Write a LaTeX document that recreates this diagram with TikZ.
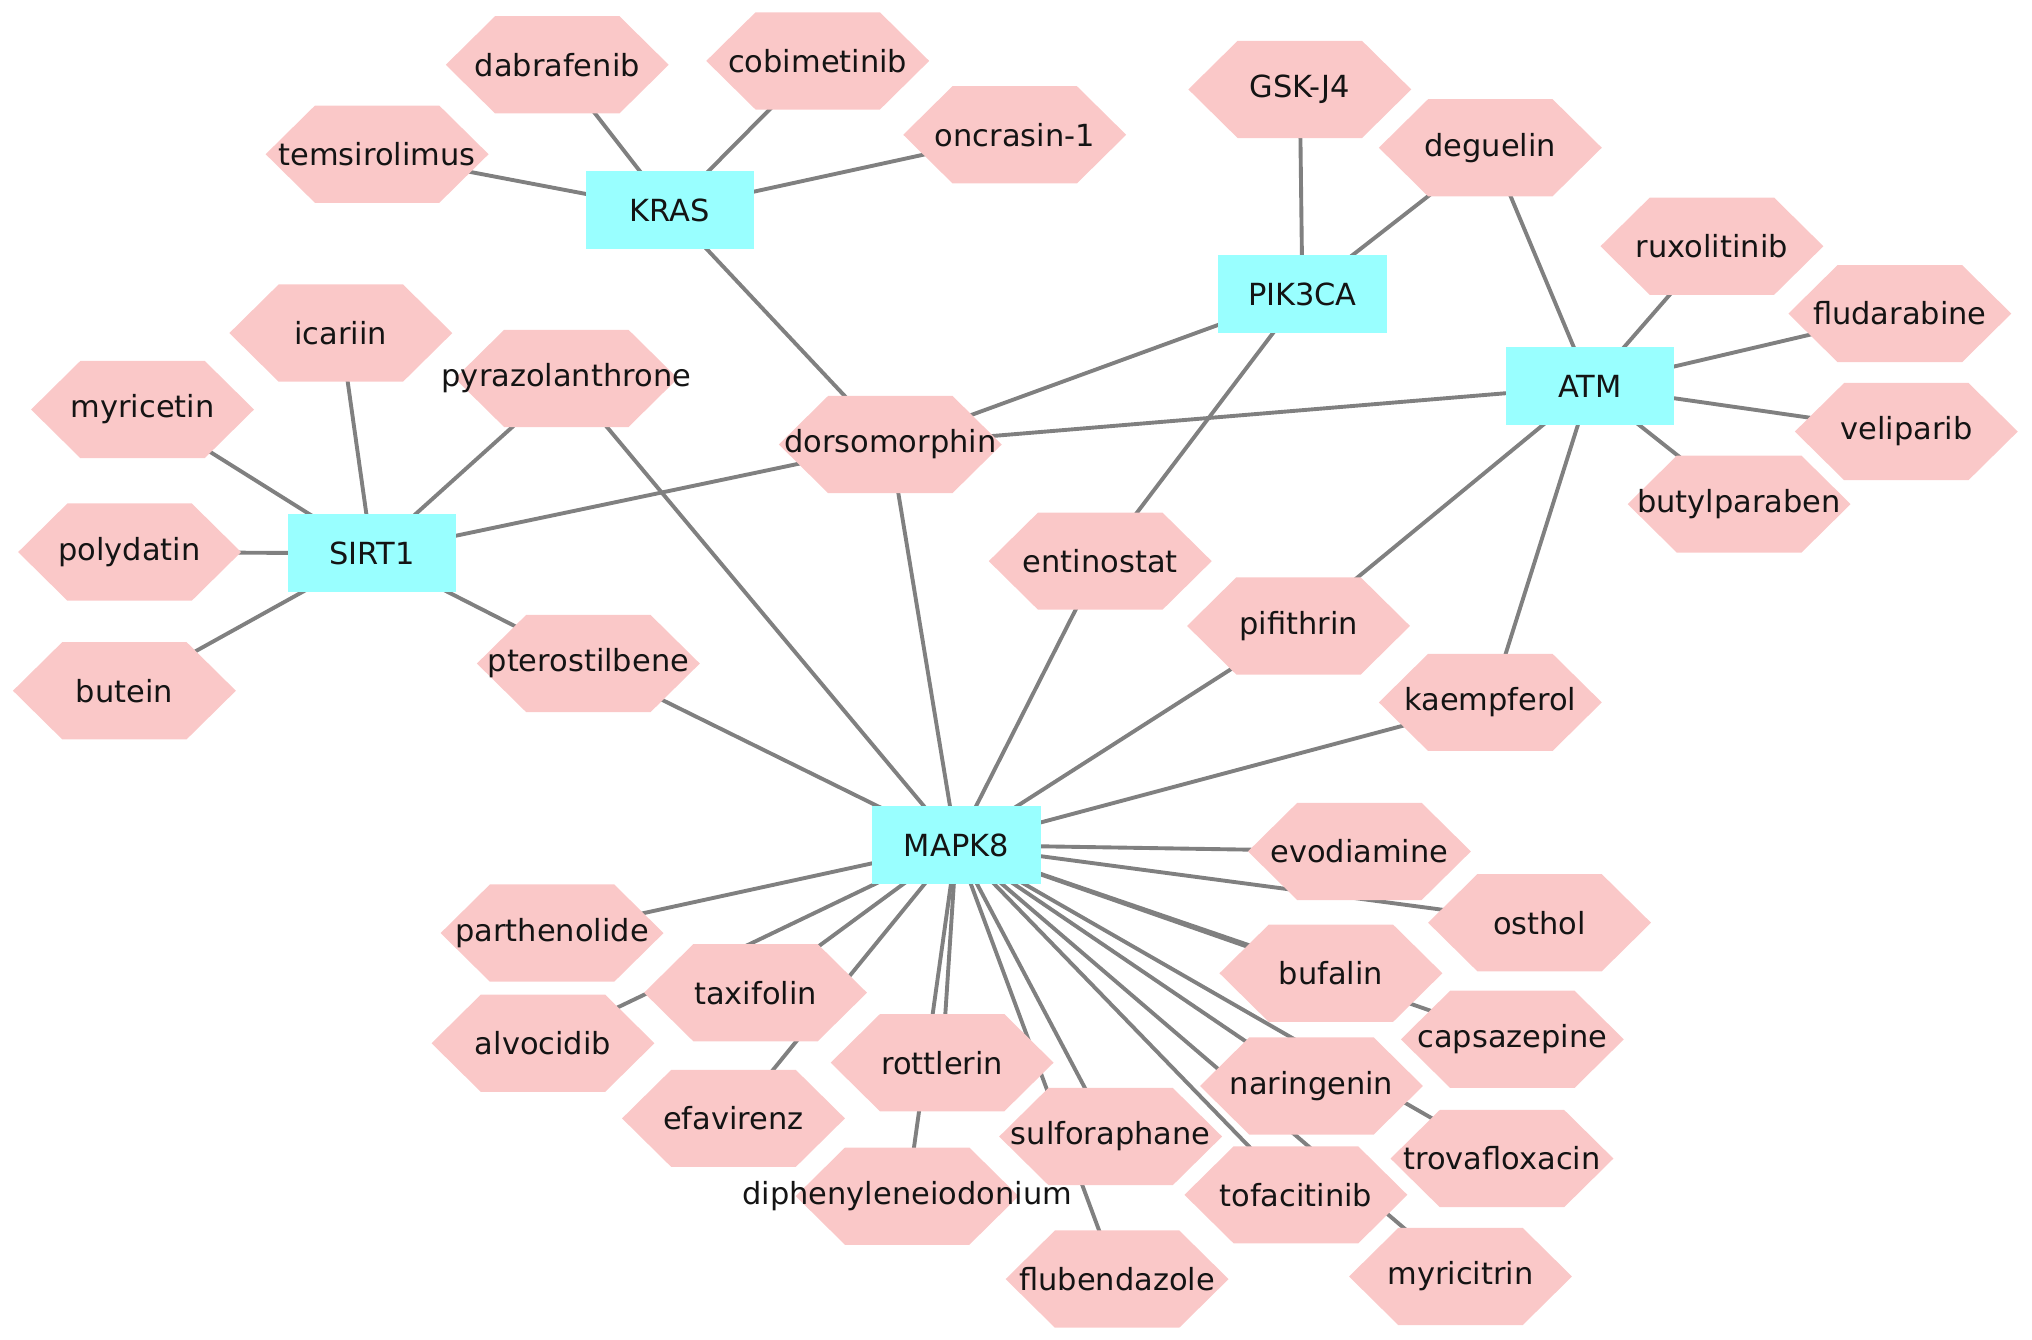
\documentclass[tikz,border=0pt]{standalone}
\usepackage{fontspec}
\setmainfont{DejaVu Sans}
\pgfdeclarelayer{edges}
\pgfdeclarelayer{fills}
\pgfsetlayers{edges,fills,main}
\definecolor{hexpink}{RGB}{250,200,200}
\definecolor{gencyan}{RGB}{153,255,255}
\definecolor{edgegray}{RGB}{128,128,128}
\definecolor{labelink}{RGB}{20,20,20}
\tikzset{
  lbl/.style={font=\fontsize{23.5}{28}\selectfont, text=labelink, inner sep=0pt},
  hexnode/.style={lbl, minimum width=172pt, minimum height=75pt},
  gene/.style={lbl, rectangle, fill=gencyan, minimum width=130pt, minimum height=60pt},
  hexfill/.style={fill=hexpink},
  edge/.style={draw=edgegray, line width=3pt},
}
\begin{document}
\begin{tikzpicture}[x=1pt,y=-1pt]
\useasboundingbox (0,0) rectangle (1568,1034);
% genes
\node[gene] (KRAS) at (517,162) {KRAS};
\node[gene] (PIK3CA) at (1005,227) {PIK3CA};
\node[gene] (ATM) at (1227,298) {ATM};
\node[gene] (SIRT1) at (287,427) {SIRT1};
\node[gene] (MAPK8) at (738,652) {MAPK8};
% drugs
\node[hexnode] (dabrafenib) at (430,50) {dabrafenib};
\node[hexnode] (cobimetinib) at (631,47) {cobimetinib};
\node[hexnode] (temsirolimus) at (291,119) {temsirolimus};
\node[hexnode] (oncrasin) at (783,104) {oncrasin-1};
\node[hexnode] (GSKJ4) at (1003,69) {GSK-J4};
\node[hexnode] (deguelin) at (1150,114) {deguelin};
\node[hexnode] (ruxolitinib) at (1321,190) {ruxolitinib};
\node[hexnode] (fludarabine) at (1466,242) {fludarabine};
\node[hexnode] (veliparib) at (1471,333) {veliparib};
\node[hexnode] (butylparaben) at (1342,389) {butylparaben};
\node[hexnode] (icariin) at (263,257) {icariin};
\node[hexnode] (myricetin) at (110,316) {myricetin};
\node[hexnode] (pyrazolanthrone) at (437,292) {pyrazolanthrone};
\node[hexnode] (dorsomorphin) at (687,343) {dorsomorphin};
\node[hexnode] (polydatin) at (100,426) {polydatin};
\node[hexnode] (butein) at (96,533) {butein};
\node[hexnode] (pterostilbene) at (454,512) {pterostilbene};
\node[hexnode] (entinostat) at (849,433) {entinostat};
\node[hexnode] (pifithrin) at (1002,483) {pifithrin};
\node[hexnode] (kaempferol) at (1150,542) {kaempferol};
\node[hexnode] (evodiamine) at (1049,657) {evodiamine};
\node[hexnode] (osthol) at (1188,712) {osthol};
\node[hexnode] (parthenolide) at (426,720) {parthenolide};
\node[hexnode] (taxifolin) at (583,766) {taxifolin};
\node[hexnode] (alvocidib) at (419,805) {alvocidib};
\node[hexnode] (bufalin) at (1027,751) {bufalin};
\node[hexnode] (capsazepine) at (1167,802) {capsazepine};
\node[hexnode] (rottlerin) at (727,820) {rottlerin};
\node[hexnode] (efavirenz) at (566,863) {efavirenz};
\node[hexnode] (naringenin) at (1012,838) {naringenin};
\node[hexnode] (sulforaphane) at (857,877) {sulforaphane};
\node[hexnode] (trovafloxacin) at (1159,894) {trovafloxacin};
\node[hexnode] (diphenyleneiodonium) at (700,923) {diphenyleneiodonium};
\node[hexnode] (tofacitinib) at (1000,922) {tofacitinib};
\node[hexnode] (flubendazole) at (862,987) {flubendazole};
\node[hexnode] (myricitrin) at (1127,985) {myricitrin};
% hexagon bodies
\begin{pgfonlayer}{fills}
\foreach \n in {dabrafenib,cobimetinib,temsirolimus,oncrasin,GSKJ4,deguelin,ruxolitinib,fludarabine,veliparib,butylparaben,icariin,myricetin,pyrazolanthrone,dorsomorphin,polydatin,butein,pterostilbene,entinostat,pifithrin,kaempferol,evodiamine,osthol,parthenolide,taxifolin,alvocidib,bufalin,capsazepine,rottlerin,efavirenz,naringenin,sulforaphane,trovafloxacin,diphenyleneiodonium,tofacitinib,flubendazole,myricitrin}
  \fill[hexfill, shift={(\n.center)}] (-86,0) -- (-48,-37.5) -- (48,-37.5) -- (86,0) -- (48,37.5) -- (-48,37.5) -- cycle;
\end{pgfonlayer}
% edges (drawn centre to centre, hidden under the node bodies)
\begin{pgfonlayer}{edges}
\foreach \d in {temsirolimus,dabrafenib,cobimetinib,oncrasin,dorsomorphin}
  \draw[edge] (KRAS.center) -- (\d.center);
\foreach \d in {GSKJ4,deguelin,dorsomorphin,entinostat}
  \draw[edge] (PIK3CA.center) -- (\d.center);
\foreach \d in {deguelin,ruxolitinib,fludarabine,veliparib,butylparaben,dorsomorphin,pifithrin,kaempferol}
  \draw[edge] (ATM.center) -- (\d.center);
\foreach \d in {icariin,myricetin,pyrazolanthrone,polydatin,butein,pterostilbene,dorsomorphin}
  \draw[edge] (SIRT1.center) -- (\d.center);
\foreach \d in {pyrazolanthrone,dorsomorphin,pterostilbene,entinostat,pifithrin,kaempferol,evodiamine,osthol,parthenolide,taxifolin,alvocidib,efavirenz,rottlerin,diphenyleneiodonium,sulforaphane,flubendazole,bufalin,capsazepine,naringenin,trovafloxacin,tofacitinib,myricitrin}
  \draw[edge] (MAPK8.center) -- (\d.center);
\end{pgfonlayer}
\end{tikzpicture}
\end{document}
